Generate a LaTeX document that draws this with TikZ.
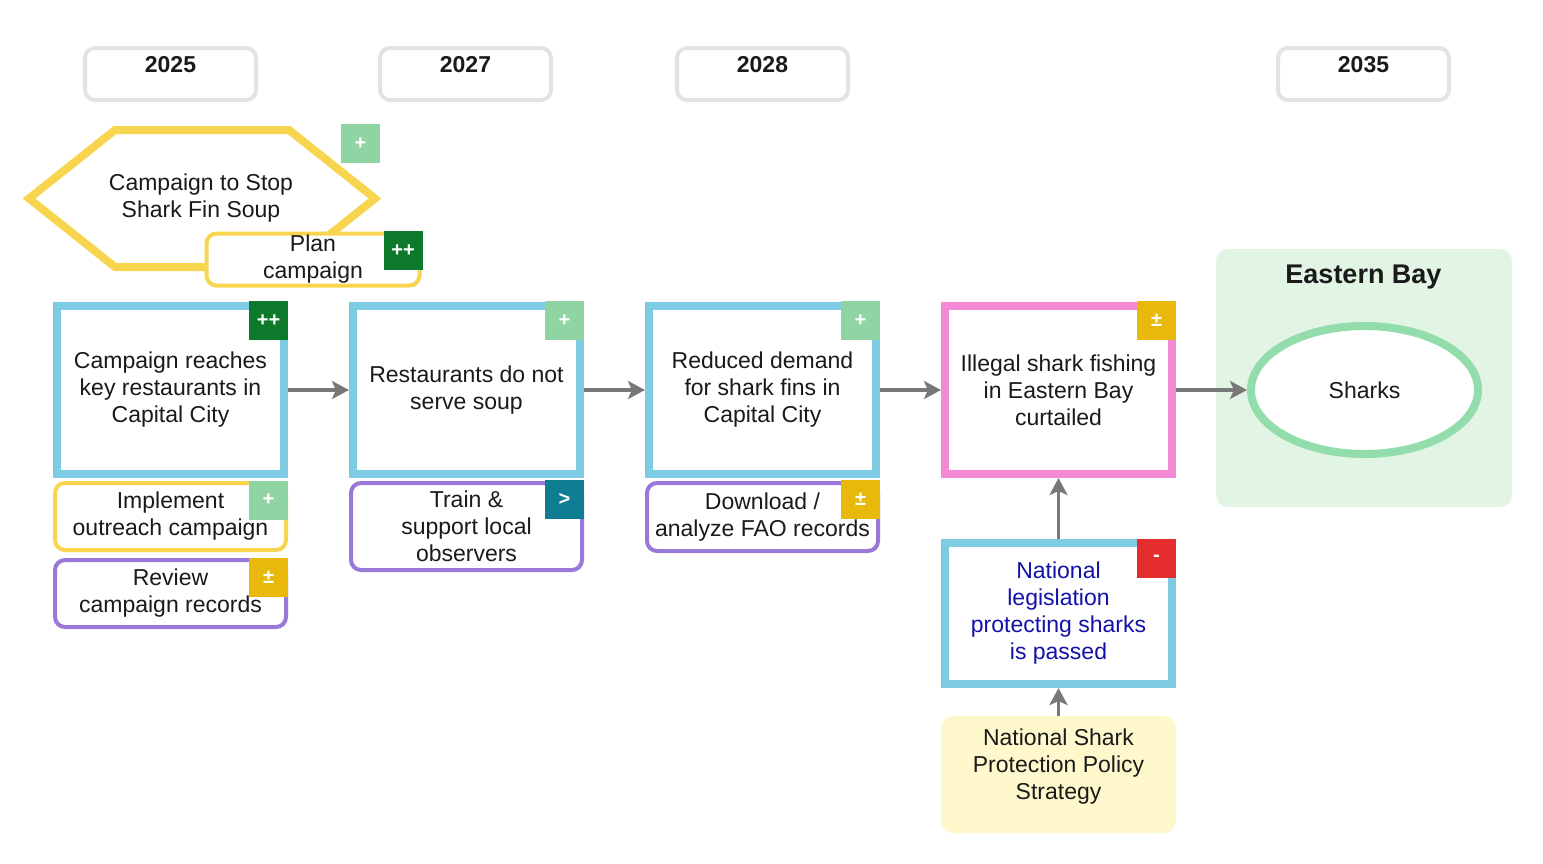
\documentclass[tikz,border=0pt]{standalone}
\usepackage{fontspec}
\setmainfont{Liberation Sans}
\usetikzlibrary{arrows.meta,shapes.geometric}
\definecolor{cblue}{HTML}{7ECBE4}
\definecolor{cpink}{HTML}{F38AD6}
\definecolor{cyellow}{HTML}{F8D54E}
\definecolor{cpurple}{HTML}{9A78DA}
\definecolor{lgreen}{HTML}{8FD4A2}
\definecolor{dgreen}{HTML}{0C7A2A}
\definecolor{cgold}{HTML}{E8B90A}
\definecolor{cteal}{HTML}{0E7D91}
\definecolor{cred}{HTML}{E52D2D}
\definecolor{yeargray}{HTML}{E3E3E3}
\definecolor{groupfill}{HTML}{E2F5E4}
\definecolor{egreen}{HTML}{93DDAC}
\definecolor{policyfill}{HTML}{FFF8CC}
\definecolor{arrgray}{HTML}{787878}
\definecolor{navy}{HTML}{1212A8}
\definecolor{ink}{HTML}{1A1A1A}
\begin{document}
\begin{tikzpicture}[x=1pt,y=-1pt,
  txt/.style={font=\fontsize{23}{27}\selectfont, text=ink, align=center},
  mainbox/.style={draw=#1, line width=8pt, fill=white, minimum width=227pt, minimum height=168pt, inner sep=0pt, txt},
  subbox/.style={draw=#1, line width=4pt, fill=white, rounded corners=10pt, minimum width=231pt, inner sep=0pt, txt},
  badge/.style={fill=#1, minimum size=39pt, inner sep=0pt, text=white, font=\fontsize{20}{21}\selectfont\bfseries},
  yearbox/.style={draw=yeargray, line width=4pt, fill=white, rounded corners=10pt, minimum width=171pt, minimum height=52pt},
  yeartxt/.style={font=\fontsize{23}{25}\selectfont\bfseries, text=ink},
  arr/.style={draw=arrgray, line width=3.5pt, -{Stealth[length=17pt,width=18pt,inset=4pt]}}
]
\useasboundingbox (0,0) rectangle (1543,863);

% year boxes
\node[yearbox] (y25) at (170.5,74) {};
\node[yeartxt] (t25) at (170.5,65) {2025};
\node[yearbox] (y27) at (465.5,74) {};
\node[yeartxt] (t27) at (465.5,65) {2027};
\node[yearbox] (y28) at (762.5,74) {};
\node[yeartxt] (t28) at (762.5,65) {2028};
\node[yearbox] (y35) at (1363.5,74) {};
\node[yeartxt] (t35) at (1363.5,65) {2035};

% hexagon strategy
\draw[cyellow, line width=8pt, fill=white, line join=miter]
  (29,198.5) -- (115,130) -- (289,130) -- (375,198.5) -- (289,267) -- (115,267) -- cycle;
\node[txt] (hex) at (201,198.5) {Campaign to Stop\\Shark Fin Soup};
\node[badge=lgreen] (hexb) at (360.5,143.5) {+};

\node[subbox=cyellow, minimum width=213pt, minimum height=52pt] (plan) at (313,259.5) {Plan\\campaign};
\node[badge=dgreen] (planb) at (403,250.5) {++};

% Eastern Bay group
\node[fill=groupfill, rounded corners=12pt, minimum width=296pt, minimum height=258pt, inner sep=0pt] (grp) at (1364,378) {};
\node[font=\fontsize{27}{30}\selectfont\bfseries, text=ink] (grpt) at (1363.5,277) {Eastern Bay};
\node[ellipse, draw=egreen, line width=8pt, fill=white, minimum width=227pt, minimum height=128pt, inner sep=0pt, txt] (sharks) at (1364.5,390) {Sharks};

% main chain
\node[mainbox=cblue] (b1) at (170.5,390) {Campaign reaches\\key restaurants in\\Capital City};
\node[badge=dgreen] (b1b) at (268.5,320.5) {++};
\node[mainbox=cblue] (b2) at (466.5,390) {Restaurants do not\\serve soup};
\node[badge=lgreen] (b2b) at (564.5,320.5) {+};
\node[mainbox=cblue] (b3) at (762.5,390) {Reduced demand\\for shark fins in\\Capital City};
\node[badge=lgreen] (b3b) at (860.5,320.5) {+};
\node[mainbox=cpink] (b4) at (1058.5,390) {Illegal shark fishing\\in Eastern Bay\\curtailed};
\node[badge=cgold] (b4b) at (1156.5,320.5) {±};

% sub boxes
\node[subbox=cyellow, minimum height=67pt] (s1) at (170.5,516.5) {Implement\\outreach campaign};
\node[badge=lgreen] (s1b) at (268.5,500) {+};
\node[subbox=cpurple, minimum height=67pt] (s2) at (170.5,593.5) {Review\\campaign records};
\node[badge=cgold] (s2b) at (268.5,577) {±};
\node[subbox=cpurple, minimum height=87pt] (s3) at (466.5,526.5) {Train \&\\support local\\observers};
\node[badge=cteal] (s3b) at (564.5,499) {>};
\node[subbox=cpurple, minimum height=68pt] (s4) at (762.5,517) {Download /\\analyze FAO records};
\node[badge=cgold] (s4b) at (860.5,499) {±};

% legislation and policy
\node[mainbox=cblue, minimum height=141pt, text=navy] (leg) at (1058.5,613.5) {National\\legislation\\protecting sharks\\is passed};
\node[badge=cred] (legb) at (1156.5,558) {-};
\node[fill=policyfill, rounded corners=12pt, minimum width=235pt, minimum height=117pt, inner sep=0pt] (pol) at (1058.5,774.5) {};
\node[txt] (polt) at (1058.5,767) {National Shark\\Protection Policy\\Strategy};

% connectors
\draw[arr] (b1) -- (b2);
\draw[arr] (b2) -- (b3);
\draw[arr] (b3) -- (b4);
\draw[arr] (b4) -- (sharks);
\draw[arr] (leg) -- (b4);
\draw[arr] (pol) -- (leg);
\end{tikzpicture}
\end{document}
